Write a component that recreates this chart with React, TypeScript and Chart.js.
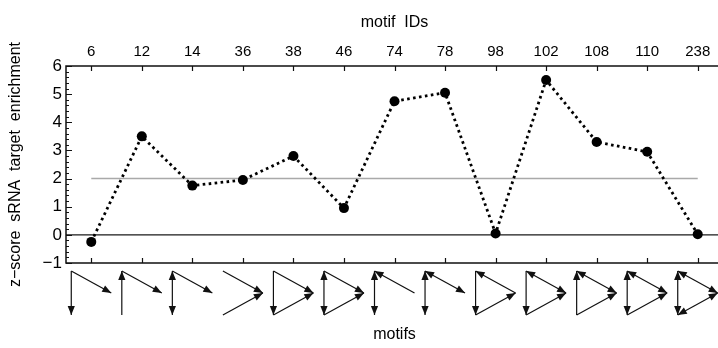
import React, { useEffect, useRef } from "react";
import { Chart, registerables } from "chart.js";
Chart.register(...registerables);

const motifIds = ["6", "12", "14", "36", "38", "46", "74", "78", "98", "102", "108", "110", "238"];
const zScores = [-0.25, 3.5, 1.75, 1.95, 2.8, 0.95, 4.75, 5.05, 0.05, 5.5, 3.3, 2.95, 0.02];
const yTicks = [-1, 0, 1, 2, 3, 4, 5, 6];
const thresholdValue = 2;
const topTitle = "motif  IDs";
const bottomTitle = "motifs";
const yTitle = "z\u2212score  sRNA  target  enrichment";
// Three-node motifs: A = top-left, B = bottom-left, C = right; "XY" = edge X -> Y
const motifEdges: string[][] = [
  ["AB", "AC"],
  ["BA", "AC"],
  ["AB", "BA", "AC"],
  ["AC", "BC"],
  ["AB", "AC", "BC"],
  ["AB", "BA", "AC", "BC"],
  ["AB", "BA", "CA"],
  ["AB", "BA", "AC", "CA"],
  ["AB", "BC", "CA"],
  ["AB", "AC", "CA", "BC"],
  ["BA", "AC", "CA", "BC"],
  ["AB", "BA", "AC", "CA", "BC"],
  ["AB", "BA", "AC", "CA", "BC", "CB"],
];

const FONT = "'Liberation Sans', Arial, Helvetica, sans-serif";

function arrowHead(ctx: CanvasRenderingContext2D, x1: number, y1: number, x2: number, y2: number) {
  const ang = Math.atan2(y2 - y1, x2 - x1);
  const len = 9;
  const hw = 3.6;
  const bx = x2 - len * Math.cos(ang);
  const by = y2 - len * Math.sin(ang);
  ctx.beginPath();
  ctx.moveTo(x2, y2);
  ctx.lineTo(bx + hw * Math.sin(ang), by - hw * Math.cos(ang));
  ctx.lineTo(bx - hw * Math.sin(ang), by + hw * Math.cos(ang));
  ctx.closePath();
  ctx.fill();
}

export default function App() {
  const ref = useRef<HTMLCanvasElement>(null);
  useEffect(() => {
    const canvas = ref.current!;
    const framePlugin = {
      id: "frame",
      beforeDatasetsDraw(chart: any) {
        const { ctx, chartArea: a, scales } = chart;
        const x = scales.x;
        const y = scales.y;
        ctx.save();
        // threshold line
        ctx.strokeStyle = "#a9a9a9";
        ctx.lineWidth = 1.5;
        const y2 = y.getPixelForValue(thresholdValue);
        ctx.beginPath();
        ctx.moveTo(x.getPixelForValue(0), y2);
        ctx.lineTo(x.getPixelForValue(motifIds.length - 1), y2);
        ctx.stroke();
        // zero line
        ctx.strokeStyle = "#1a1a1a";
        ctx.lineWidth = 1.2;
        const y0 = y.getPixelForValue(0);
        ctx.beginPath();
        ctx.moveTo(a.left, y0);
        ctx.lineTo(a.right, y0);
        ctx.stroke();
        // frame
        ctx.strokeStyle = "#111";
        ctx.lineWidth = 1.5;
        ctx.beginPath();
        ctx.moveTo(a.right, a.top);
        ctx.lineTo(a.left, a.top);
        ctx.lineTo(a.left, a.bottom);
        ctx.lineTo(a.right, a.bottom);
        ctx.stroke();
        // ticks
        ctx.lineWidth = 1.2;
        ctx.beginPath();
        motifIds.forEach((_, i) => {
          const px = Math.round(x.getPixelForValue(i)) + 0.5;
          ctx.moveTo(px, a.top);
          ctx.lineTo(px, a.top + 5);
          ctx.moveTo(px, a.bottom);
          ctx.lineTo(px, a.bottom - 5);
        });
        const steps = Math.round((y.max - y.min) * 5);
        for (let k = 0; k <= steps; k++) {
          const v = y.min + k * 0.2;
          const py = Math.round(y.getPixelForValue(v)) + 0.5;
          const major = k % 5 === 0;
          ctx.moveTo(a.left, py);
          ctx.lineTo(a.left + (major ? 6 : 3), py);
        }
        ctx.stroke();
        ctx.restore();
      },
      afterDraw(chart: any) {
        const { ctx, chartArea: a, scales } = chart;
        const x = scales.x;
        ctx.save();
        // motif icons
        ctx.strokeStyle = "#111";
        ctx.fillStyle = "#111";
        ctx.lineWidth = 1.2;
        motifEdges.forEach((edges, i) => {
          const cx = x.getPixelForValue(i);
          const nodes: Record<string, [number, number]> = {
            A: [cx - 20, a.bottom + 8],
            B: [cx - 20, a.bottom + 52],
            C: [cx + 20, a.bottom + 30],
          };
          const drawn = new Set<string>();
          edges.forEach((e) => {
            const key = e.split("").sort().join("");
            if (!drawn.has(key)) {
              drawn.add(key);
              const [p, q] = [nodes[e[0]], nodes[e[1]]];
              ctx.beginPath();
              ctx.moveTo(p[0], p[1]);
              ctx.lineTo(q[0], q[1]);
              ctx.stroke();
            }
          });
          edges.forEach((e) => {
            const p = nodes[e[0]];
            const q = nodes[e[1]];
            arrowHead(ctx, p[0], p[1], q[0], q[1]);
          });
        });
        // titles
        ctx.fillStyle = "#000";
        ctx.textAlign = "center";
        ctx.textBaseline = "alphabetic";
        ctx.font = `16px ${FONT}`;
        const midX = (a.left + a.right) / 2;
        ctx.fillText(topTitle, midX, 27);
        ctx.fillText(bottomTitle, midX, 339);
        ctx.translate(20, (a.top + a.bottom) / 2);
        ctx.rotate(-Math.PI / 2);
        ctx.fillText(yTitle, 0, 0);
        ctx.restore();
      },
    };

    const chart = new Chart(canvas, {
      type: "line",
      data: {
        labels: motifIds,
        datasets: [
          {
            data: zScores,
            borderColor: "#000",
            borderWidth: 2.8,
            borderDash: [2.6, 3.4],
            borderCapStyle: "butt",
            pointRadius: 5,
            pointBorderWidth: 0,
            pointBackgroundColor: "#000",
            tension: 0,
            fill: false,
            clip: false as any,
          },
        ],
      },
      options: {
        responsive: false,
        animation: false,
        events: [],
        layout: { padding: { top: 0, left: 0, right: 0, bottom: 85 } },
        plugins: { legend: { display: false }, tooltip: { enabled: false } },
        scales: {
          x: {
            type: "category",
            position: "top",
            offset: true,
            grid: { display: false, drawTicks: false },
            border: { display: false },
            ticks: {
              color: "#000",
              font: { size: 15, family: FONT },
              padding: 5,
              maxRotation: 0,
              autoSkip: false,
            },
            afterFit: (s: any) => {
              s.height = 66;
            },
          },
          y: {
            min: -1,
            max: 6,
            position: "left",
            grid: { display: false, drawTicks: false },
            border: { display: false },
            ticks: {
              color: "#000",
              font: { size: 17, family: FONT },
              padding: 4,
              callback: (v: any) => (Number(v) < 0 ? "\u2212" + Math.abs(Number(v)) : String(v)),
            },
            afterBuildTicks: (s: any) => {
              s.ticks = yTicks.map((v) => ({ value: v }));
            },
            afterFit: (s: any) => {
              s.width = 66;
            },
          },
        },
      },
      plugins: [framePlugin],
    } as any);
    return () => chart.destroy();
  }, []);

  return (
    <div
      style={{
        position: "absolute",
        left: 0,
        top: 0,
        width: 718,
        height: 348,
        overflow: "hidden",
        background: "#fff",
      }}
    >
      <canvas ref={ref} width={728} height={348} style={{ display: "block" }} />
    </div>
  );
}
